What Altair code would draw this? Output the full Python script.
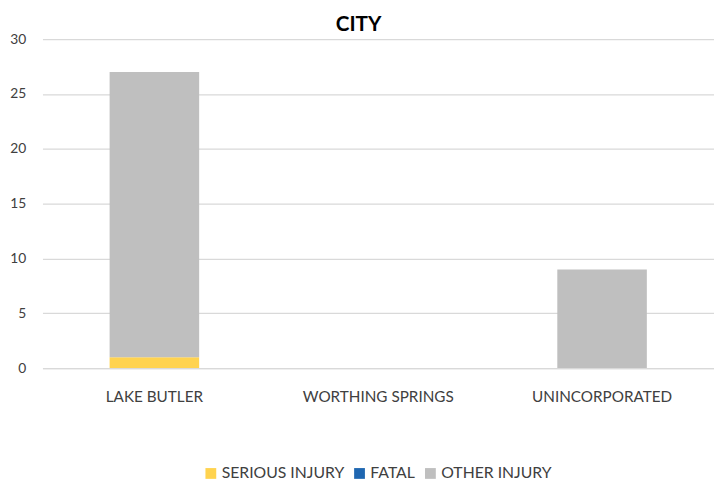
import altair as alt
import pandas as pd

cities = ["LAKE BUTLER", "WORTHING SPRINGS", "UNINCORPORATED"]
series = ["SERIOUS INJURY", "FATAL", "OTHER INJURY"]
serious = [1, 0, 0]
fatal = [0, 0, 0]
other = [26, 0, 9]
colors = ["#FFD34F", "#1F67B1", "#BFBFBF"]

rows = []
for i, c in enumerate(cities):
    for k, (s, vals) in enumerate(zip(series, [serious, fatal, other])):
        rows.append({"city": c, "series": s, "value": vals[i], "order": k})
df = pd.DataFrame(rows)

FONT = "Lato"

chart = alt.Chart(df).mark_bar().encode(
    x=alt.X("city:N", sort=cities,
            scale=alt.Scale(paddingInner=0.6, paddingOuter=0.3),
            axis=alt.Axis(title=None, labelAngle=0, ticks=False, domain=True,
                          domainColor="#D9D9D9", domainWidth=1.3,
                          labelFont=FONT, labelFontSize=15.5, labelColor="#404040",
                          labelPadding=22)),
    y=alt.Y("value:Q", stack="zero",
            scale=alt.Scale(domain=[0, 30], nice=False),
            axis=alt.Axis(title=None, values=[0, 5, 10, 15, 20, 25, 30],
                          ticks=False, domain=False, gridColor="#D9D9D9",
                          gridWidth=1.3, labelFont=FONT, labelFontSize=14,
                          labelColor="#404040", labelPadding=17)),
    color=alt.Color("series:N", sort=series,
                    scale=alt.Scale(domain=series, range=colors),
                    legend=alt.Legend(title=None, orient="none", direction="horizontal",
                                      legendX=163, legendY=433,
                                      symbolType="square", symbolSize=120,
                                      symbolStrokeWidth=0, labelFont=FONT,
                                      labelFontSize=16, labelColor="#404040",
                                      columnPadding=7, symbolOffset=0,
                                      labelOffset=3)),
    order=alt.Order("order:Q", sort="ascending"),
).properties(
    width=682,
    height=334,
    title=alt.TitleParams("CITY", font=FONT, fontSize=21, fontWeight="bold",
                          color="#000000", anchor="middle", frame="group",
                          dx=-20, dy=3, offset=0),
    autosize=alt.AutoSizeParams(type="none"),
    padding={"left": 35, "top": 28, "right": 0, "bottom": 115},
).configure_view(stroke=None)

chart.save("out.html", embed_options={"renderer": "svg", "actions": False})
